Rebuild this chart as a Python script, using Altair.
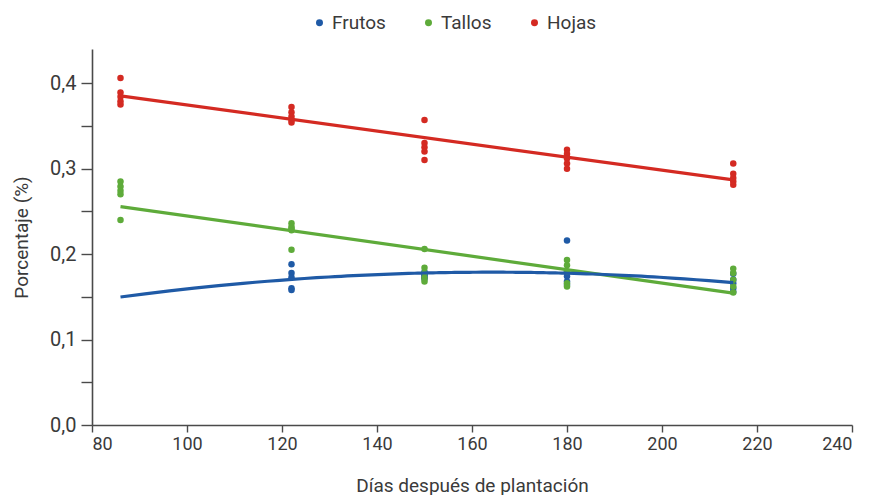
import altair as alt
import pandas as pd

# ---- data ----
days = [86, 122, 150, 180, 215]
series = ["Frutos", "Tallos", "Hojas"]
colors = ["#1f5aa6", "#5eab3a", "#d42a22"]

frutos = [
    [],
    [0.188, 0.178, 0.173, 0.160, 0.158],
    [0.179, 0.177, 0.175, 0.173, 0.171],
    [0.216, 0.179, 0.174, 0.168, 0.164],
    [0.177, 0.170, 0.166, 0.160, 0.156],
]
tallos = [
    [0.285, 0.279, 0.274, 0.270, 0.240],
    [0.236, 0.232, 0.230, 0.228, 0.205],
    [0.206, 0.184, 0.178, 0.172, 0.168],
    [0.193, 0.187, 0.180, 0.166, 0.162],
    [0.183, 0.178, 0.170, 0.162, 0.155],
]
hojas = [
    [0.406, 0.389, 0.384, 0.379, 0.375],
    [0.372, 0.366, 0.361, 0.357, 0.354],
    [0.357, 0.330, 0.325, 0.320, 0.310],
    [0.322, 0.317, 0.312, 0.306, 0.300],
    [0.306, 0.294, 0.289, 0.285, 0.281],
]

x_ticks = [80, 100, 120, 140, 160, 180, 200, 220, 240]
y_ticks = [0.0, 0.05, 0.1, 0.15, 0.2, 0.25, 0.3, 0.35, 0.4]

rows = []
for name, groups in zip(series, [frutos, tallos, hojas]):
    for d, vals in zip(days, groups):
        for v in vals:
            rows.append({"serie": name, "dias": d, "pct": v})
df = pd.DataFrame(rows)

FONT = "Roboto, sans-serif"
TXT = "#3a3a3a"
AX = "#4a4a4a"

color = alt.Color(
    "serie:N",
    scale=alt.Scale(domain=series, range=colors),
    sort=series,
    legend=alt.Legend(
        title=None,
        orient="none",
        direction="horizontal",
        legendX=218,
        legendY=-36,
        symbolType="circle",
        symbolSize=30,
        labelFontSize=19,
        labelFont=FONT,
        labelColor=TXT,
        columnPadding=33,
        labelOffset=3,
    ),
)

x = alt.X(
    "dias:Q",
    scale=alt.Scale(domain=[80, 240], nice=False, zero=False),
    axis=alt.Axis(
        values=x_ticks,
        title="Días después de plantación",
        grid=False,
        tickSize=7,
        labelPadding=3,
        titlePadding=23,
    ),
)
y = alt.Y(
    "pct:Q",
    scale=alt.Scale(domain=[0, 0.44], nice=False),
    axis=alt.Axis(
        values=y_ticks,
        title="Porcentaje (%)",
        grid=False,
        tickSize=11,
        labelPadding=5,
        titlePadding=18,
        labelFontSize=20,
        labelExpr="round(datum.value*100) % 10 == 0 ? replace(format(datum.value, '.1f'), '.', ',') : ''",
    ),
)

base = alt.Chart(df)
points = base.mark_circle(size=42, opacity=1).encode(x=x, y=y, color=color)

lin = (
    base.transform_filter(alt.FieldOneOfPredicate(field="serie", oneOf=["Tallos", "Hojas"]))
    .transform_regression("dias", "pct", groupby=["serie"], method="linear", extent=[86, 215])
    .mark_line(strokeWidth=3.2)
    .encode(x=x, y=y, color=color)
)
poly = (
    base.transform_filter(alt.FieldEqualPredicate(field="serie", equal="Frutos"))
    .transform_regression("dias", "pct", groupby=["serie"], method="poly", order=2, extent=[86, 215])
    .mark_line(strokeWidth=3.2)
    .encode(x=x, y=y, color=color)
)

chart = (
    alt.layer(points, lin, poly)
    .properties(
        width=760,
        height=376,
        autosize="none",
        padding={"left": 84, "top": 41, "right": 13, "bottom": 70},
    )
    .configure_view(stroke=None)
    .configure_axis(
        labelFont=FONT,
        titleFont=FONT,
        labelFontSize=18,
        titleFontSize=19,
        titleFontWeight="normal",
        labelColor=TXT,
        titleColor=TXT,
        domainColor=AX,
        tickColor=AX,
        domainWidth=1.6,
        tickWidth=1.4,
    )
)

chart.save("out.html", embed_options={"renderer": "svg", "actions": False})
